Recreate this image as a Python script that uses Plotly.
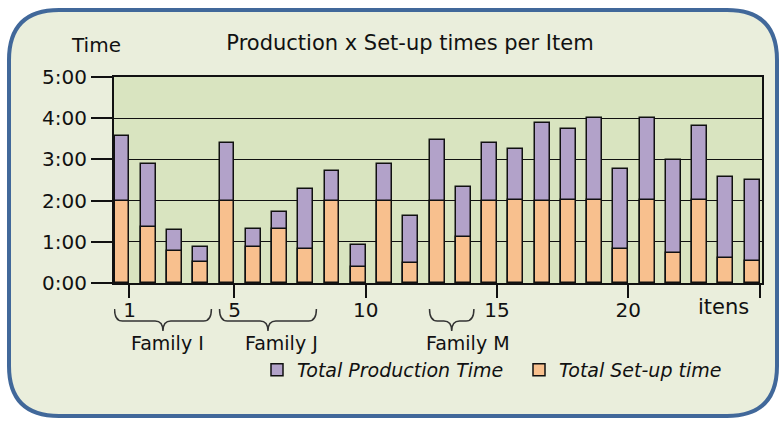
import plotly.graph_objects as go

# ---------------- data ----------------
items = list(range(1, 26))
total_time = [3.58, 2.89, 1.29, 0.88, 3.39, 1.32, 1.72, 2.29, 2.72, 0.92,
              2.89, 1.63, 3.46, 2.32, 3.41, 3.26, 3.89, 3.74, 4.00, 2.76,
              4.00, 2.99, 3.81, 2.57, 2.49]
setup_time = [2.00, 1.35, 0.78, 0.50, 2.00, 0.88, 1.32, 0.82, 2.00, 0.38,
              2.00, 0.49, 2.00, 1.12, 2.00, 2.02, 2.00, 2.02, 2.02, 0.82,
              2.02, 0.74, 2.02, 0.61, 0.54]
y_tick_vals = [0, 1, 2, 3, 4, 5]
y_tick_text = ["0:00", "1:00", "2:00", "3:00", "4:00", "5:00"]
x_tick_vals = [1, 5, 10, 15, 20, 25]
x_tick_text = ["1", "5", "10", "15", "20", ""]
families = ["Family I", "Family J", "Family M"]
family_first = [1, 5, 13]
family_last = [4, 8, 14]

# ---------------- layout helpers ----------------
W, H = 779, 421
L, R, T, B = 114, 17, 77, 138
PW, PH = W - L - R, H - T - B
BAR_W = 0.57
FONT = "DejaVu Sans"


def px(X):
    return (X - L) / PW


def py(Y):
    return (H - B - Y) / PH


fig = go.Figure()
fig.add_trace(go.Bar(x=items, y=total_time, name="Total Production Time",
                     width=BAR_W, offset=-BAR_W,
                     marker=dict(color="#b2a2c9", line=dict(color="#111", width=1.5))))
fig.add_trace(go.Bar(x=items, y=setup_time, name="Total Set-up time",
                     width=BAR_W, offset=-BAR_W,
                     marker=dict(color="#f8c08e", line=dict(color="#111", width=1.5))))

shapes = []
# rounded outer panel
l, r_, t, b, rad = 9, 777, 10, 416, 50
panel = (f"M {px(l+rad)},{py(t)} L {px(r_-rad)},{py(t)} Q {px(r_)},{py(t)} {px(r_)},{py(t+rad)} "
         f"L {px(r_)},{py(b-rad)} Q {px(r_)},{py(b)} {px(r_-rad)},{py(b)} "
         f"L {px(l+rad)},{py(b)} Q {px(l)},{py(b)} {px(l)},{py(b-rad)} "
         f"L {px(l)},{py(t+rad)} Q {px(l)},{py(t)} {px(l+rad)},{py(t)} Z")
shapes.append(dict(type="path", path=panel, xref="paper", yref="paper", layer="below",
                   fillcolor="#eaeedc", line=dict(color="#41689a", width=4)))
# plot area background
shapes.append(dict(type="rect", x0=0, x1=1, y0=0, y1=1, xref="paper", yref="paper",
                   layer="below", fillcolor="#d9e4c0", line=dict(width=0)))

# braces under families
annotations = []
label_shift = [5, 14, 16]
for name, f0, f1, sh in zip(families, family_first, family_last, label_shift):
    x0 = f0 - BAR_W
    x1 = f1 + 0.12
    xc = (x0 + x1) / 2
    d = 0.3
    ytop, yline, ytip = py(309), py(321), py(331)
    path = (f"M {x0},{ytop} Q {x0},{yline} {x0+d},{yline} L {xc-d},{yline} "
            f"Q {xc},{yline} {xc},{ytip} Q {xc},{yline} {xc+d},{yline} "
            f"L {x1-d},{yline} Q {x1},{yline} {x1},{ytop}")
    shapes.append(dict(type="path", path=path, xref="x", yref="paper",
                       line=dict(color="#333", width=1.5)))
    annotations.append(dict(text=name, x=xc, xref="x", xshift=sh, y=py(343), yref="paper",
                            showarrow=False, xanchor="center", yanchor="middle",
                            font=dict(family=FONT, size=19, color="#111")))

annotations.append(dict(text="Time", x=px(96), y=py(45), xref="paper", yref="paper",
                        showarrow=False, xanchor="center", yanchor="middle",
                        font=dict(family=FONT, size=20, color="#111")))
annotations.append(dict(text="itens", x=25, xref="x", xshift=-9, y=py(307), yref="paper",
                        showarrow=False, xanchor="right", yanchor="middle",
                        font=dict(family=FONT, size=21, color="#111")))

fig.update_layout(
    template="none",
    width=W, height=H,
    margin=dict(l=L, r=R, t=T, b=B, autoexpand=False),
    paper_bgcolor="white",
    plot_bgcolor="rgba(0,0,0,0)",
    barmode="overlay",
    font=dict(family=FONT, color="#111"),
    title=dict(text="Production x Set-up times per Item", x=410 / W, xref="container",
               xanchor="center", y=1 - 43 / H, yref="container", yanchor="middle",
               font=dict(family=FONT, size=21, color="#111")),
    xaxis=dict(range=[0.41, 25.095], tickvals=x_tick_vals, ticktext=x_tick_text,
               ticks="outside", ticklen=13, tickwidth=1.5, tickcolor="#111",
               showline=True, linewidth=2, linecolor="#111", mirror=True,
               showgrid=False, zeroline=False, tickfont=dict(size=20),
               ticklabelstandoff=-5),
    yaxis=dict(range=[0, 5], tickvals=y_tick_vals, ticktext=y_tick_text,
               ticks="outside", ticklen=21, tickwidth=1.5, tickcolor="#111",
               showline=True, linewidth=2, linecolor="#111", mirror=True,
               showgrid=True, gridcolor="#111", gridwidth=1, zeroline=False,
               tickfont=dict(size=20)),
    legend=dict(orientation="h", x=px(257), xanchor="left", y=py(370), yanchor="middle",
                bgcolor="rgba(0,0,0,0)", font=dict(family=FONT, size=19, style="italic", color="#111"),
                traceorder="normal", entrywidth=217, entrywidthmode="pixels"),
    shapes=shapes,
    annotations=annotations,
    bargap=0,
)

fig.write_html("out.html", config={"displayModeBar": False},
               post_script="document.body.style.margin='0';")
